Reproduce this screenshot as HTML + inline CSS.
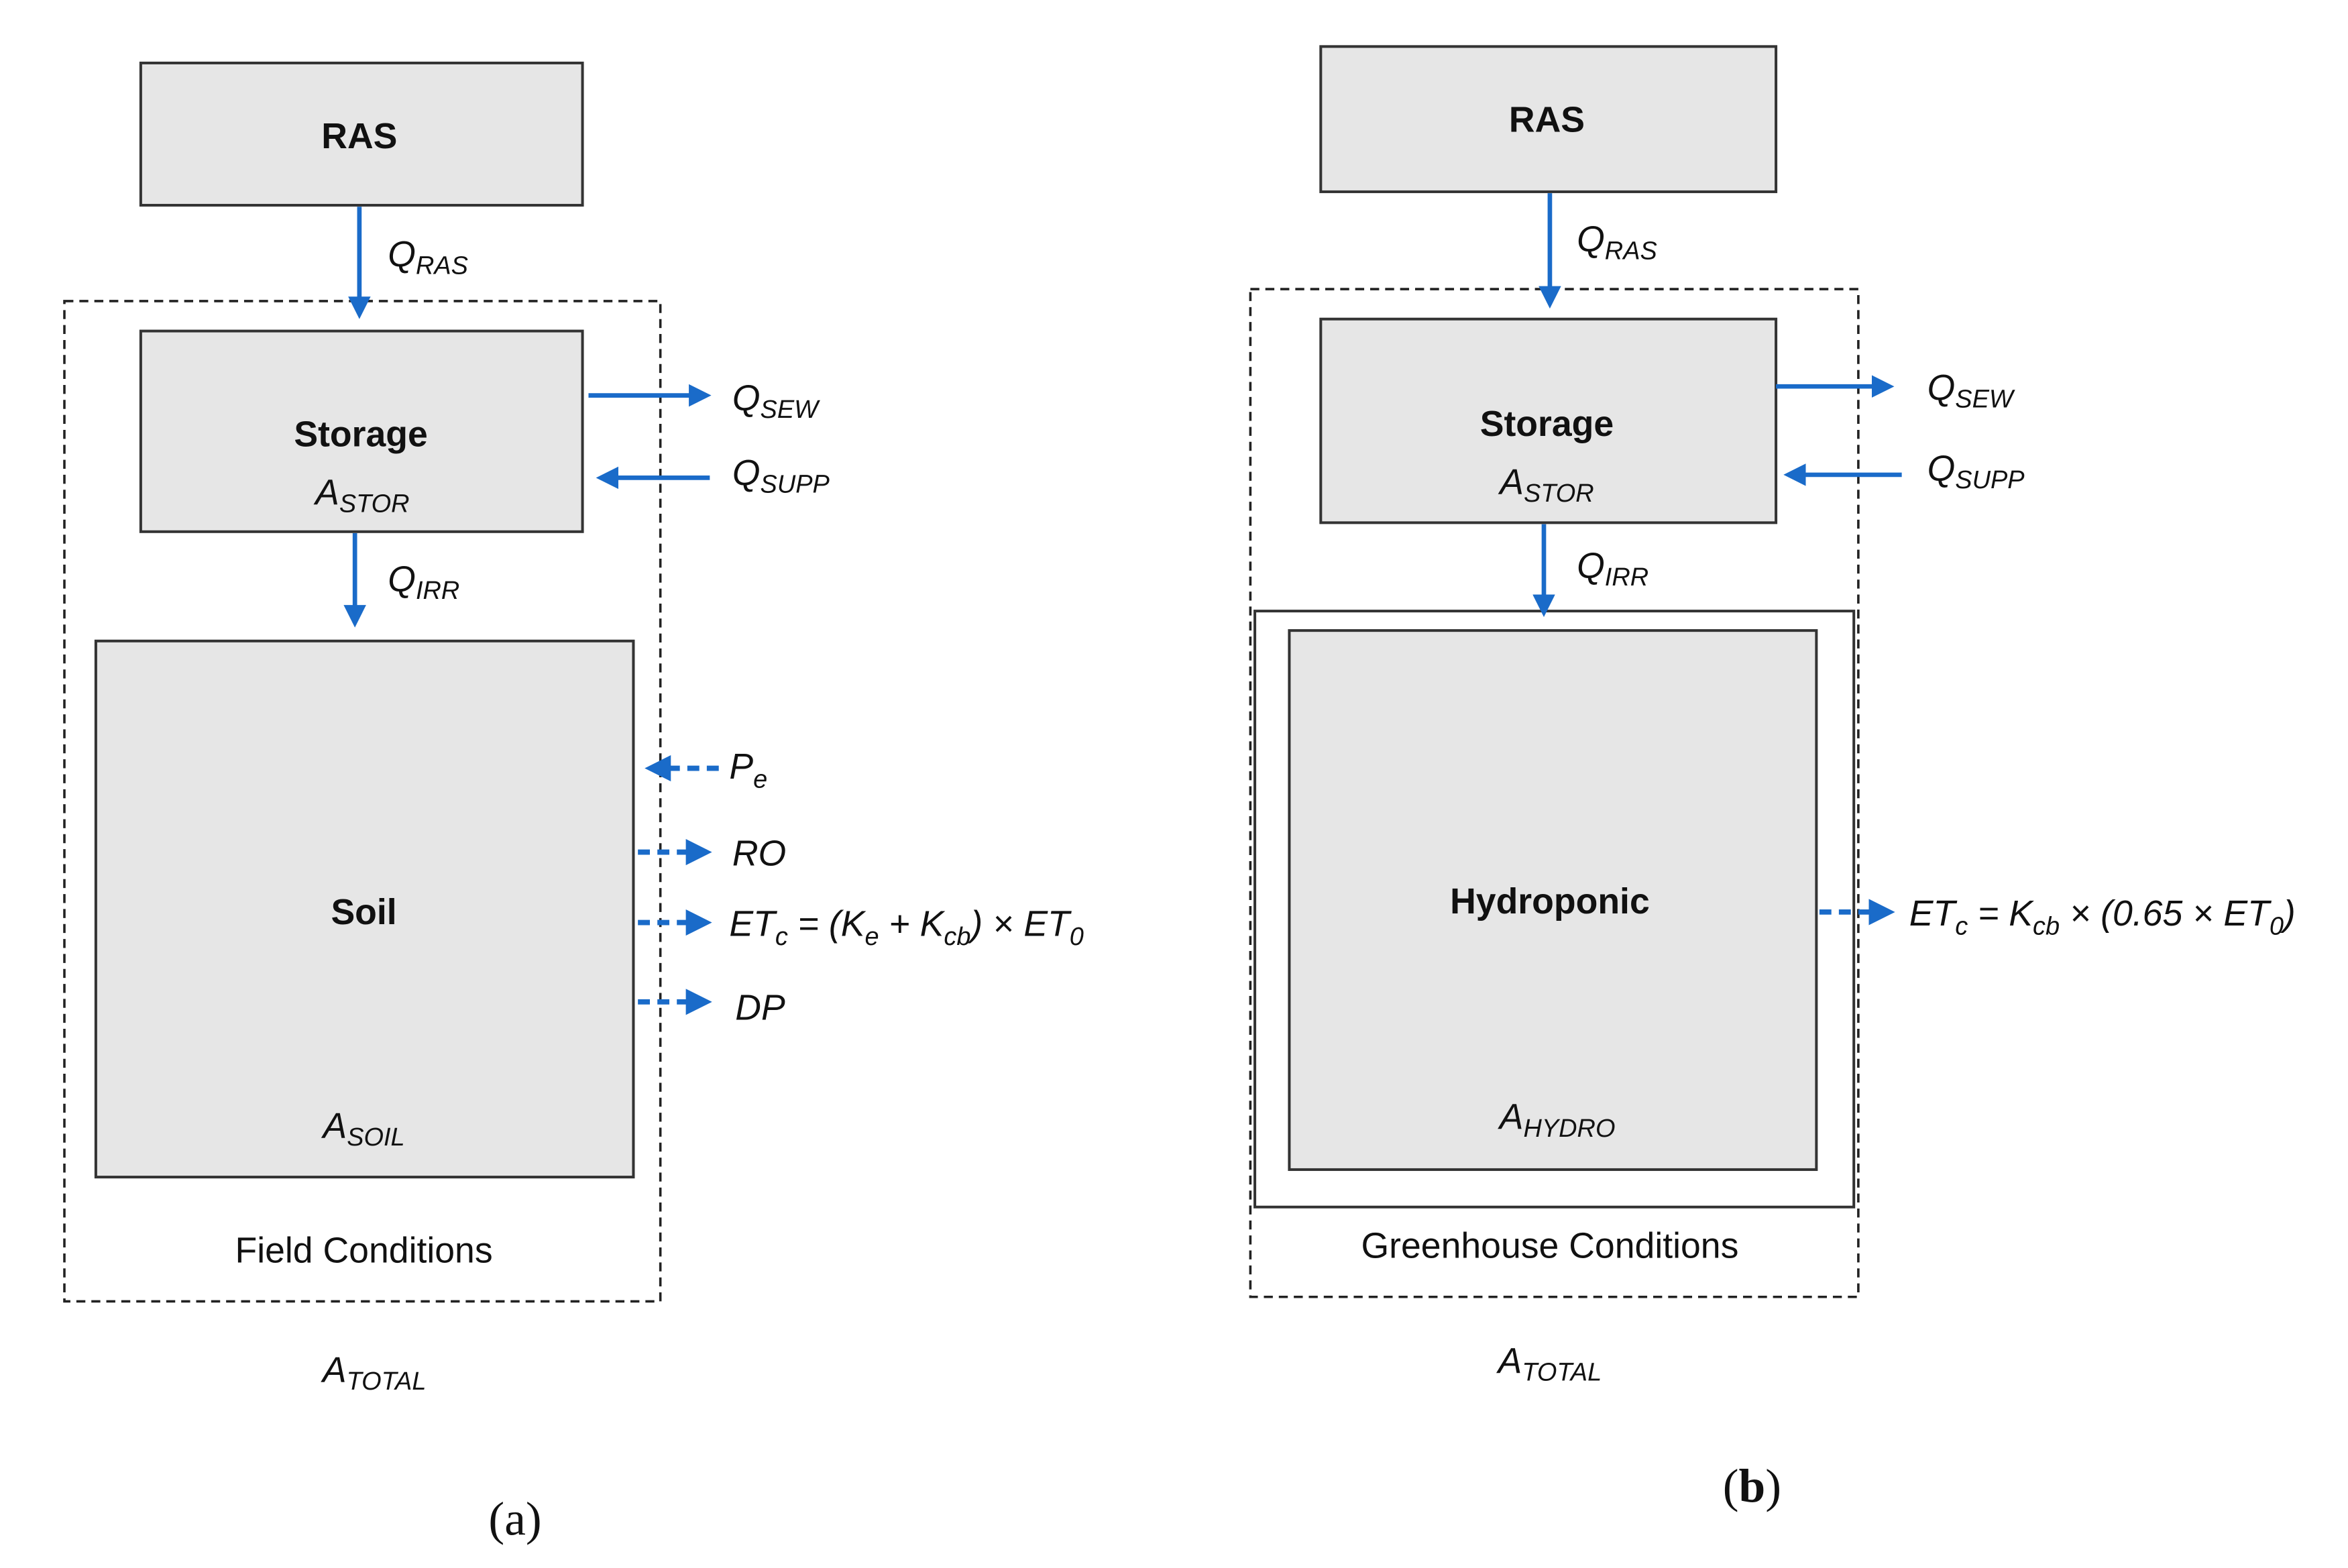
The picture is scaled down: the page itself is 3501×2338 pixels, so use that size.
<!DOCTYPE html>
<html><head><meta charset="utf-8"><style>
html,body{margin:0;padding:0;background:#fff;}
svg{display:block;}
text{font-family:"Liberation Sans",Arial,sans-serif;fill:#111;}
.b{font-weight:bold;font-size:24px;}
.i{font-style:italic;font-size:24px;}
.s{font-size:17px;}
.n{font-size:24px;}
</style></head><body>
<svg width="3501" height="2338" viewBox="0 0 1568 1047" xmlns="http://www.w3.org/2000/svg">
<defs>
<marker id="ah" markerWidth="5" markerHeight="5" refX="4" refY="2.5" orient="auto" markerUnits="strokeWidth"><path d="M0,0 L5,2.5 L0,5 z" fill="#1a6bc9"/></marker>
</defs>
<g stroke="#333" stroke-width="1.8" fill="#e6e6e6">
<rect x="94" y="42" width="295" height="95"/>
<rect x="94" y="221" width="295" height="134"/>
<rect x="64" y="428" width="359" height="358"/>
<rect x="882" y="31" width="304" height="97"/>
<rect x="882" y="213" width="304" height="136"/>
<rect x="838" y="408" width="400" height="398" fill="none"/>
<rect x="861" y="421" width="352" height="360"/>
</g>
<g stroke="#222" stroke-width="1.6" fill="none" stroke-dasharray="6,4">
<rect x="43" y="201" width="398" height="668"/>
<rect x="835" y="193" width="406" height="673"/>
</g>
<g stroke="#1a6bc9" stroke-width="3" fill="none" marker-end="url(#ah)">
<line x1="240" y1="138" x2="240" y2="210"/>
<line x1="237" y1="356" x2="237" y2="416"/>
<line x1="393" y1="264" x2="472" y2="264"/>
<line x1="474" y1="319" x2="401" y2="319"/>
<line x1="1035" y1="129" x2="1035" y2="203"/>
<line x1="1031" y1="350" x2="1031" y2="409"/>
<line x1="1186" y1="258" x2="1262" y2="258"/>
<line x1="1270" y1="317" x2="1194" y2="317"/>
</g>
<g stroke="#1a6bc9" stroke-width="3.5" fill="none" stroke-dasharray="8,5" marker-end="url(#ah)">
<line x1="480" y1="513" x2="434" y2="513"/>
<line x1="426" y1="569" x2="472" y2="569"/>
<line x1="426" y1="616" x2="472" y2="616"/>
<line x1="426" y1="669" x2="472" y2="669"/>
<line x1="1215" y1="609" x2="1262" y2="609"/>
</g>
<text class="b" x="240" y="99" text-anchor="middle">RAS</text>
<text class="b" x="241" y="298" text-anchor="middle">Storage</text>
<text class="i" x="242" y="337" text-anchor="middle">A<tspan class="s" dy="5">STOR</tspan></text>
<text class="b" x="243" y="617" text-anchor="middle">Soil</text>
<text class="i" x="243" y="760" text-anchor="middle">A<tspan class="s" dy="5">SOIL</tspan></text>
<text class="n" x="243" y="843" text-anchor="middle">Field Conditions</text>
<text class="i" x="250" y="923" text-anchor="middle">A<tspan class="s" dy="5">TOTAL</tspan></text>
<text class="i" x="259" y="178">Q<tspan class="s" dy="5">RAS</tspan></text>
<text class="i" x="259" y="395">Q<tspan class="s" dy="5">IRR</tspan></text>
<text class="i" x="489" y="274">Q<tspan class="s" dy="5">SEW</tspan></text>
<text class="i" x="489" y="324">Q<tspan class="s" dy="5">SUPP</tspan></text>
<text class="i" x="487" y="520">P<tspan class="s" dy="6">e</tspan></text>
<text class="i" x="489" y="578">RO</text>
<text class="i" x="487" y="625">ET<tspan class="s" dy="6">c</tspan><tspan dy="-6"> = (K</tspan><tspan class="s" dy="6">e</tspan><tspan dy="-6"> + K</tspan><tspan class="s" dy="6">cb</tspan><tspan dy="-6">) × ET</tspan><tspan class="s" dy="6">0</tspan></text>
<text class="i" x="491" y="681">DP</text>
<text x="344" y="1025" text-anchor="middle" style="font-family:'Liberation Serif',serif;font-size:32px;">(a)</text>

<text class="b" x="1033" y="88" text-anchor="middle">RAS</text>
<text class="b" x="1033" y="291" text-anchor="middle">Storage</text>
<text class="i" x="1033" y="330" text-anchor="middle">A<tspan class="s" dy="5">STOR</tspan></text>
<text class="b" x="1035" y="610" text-anchor="middle">Hydroponic</text>
<text class="i" x="1040" y="754" text-anchor="middle">A<tspan class="s" dy="5">HYDRO</tspan></text>
<text class="n" x="1035" y="840" text-anchor="middle">Greenhouse  Conditions</text>
<text class="i" x="1035" y="917" text-anchor="middle">A<tspan class="s" dy="5">TOTAL</tspan></text>
<text class="i" x="1053" y="168">Q<tspan class="s" dy="5">RAS</tspan></text>
<text class="i" x="1053" y="386">Q<tspan class="s" dy="5">IRR</tspan></text>
<text class="i" x="1287" y="267">Q<tspan class="s" dy="5">SEW</tspan></text>
<text class="i" x="1287" y="321">Q<tspan class="s" dy="5">SUPP</tspan></text>
<text class="i" x="1275" y="618">ET<tspan class="s" dy="6">c</tspan><tspan dy="-6"> = K</tspan><tspan class="s" dy="6">cb</tspan><tspan dy="-6"> × (0.65 × ET</tspan><tspan class="s" dy="6">0</tspan><tspan dy="-6">)</tspan></text>
<text x="1170" y="1003" text-anchor="middle" style="font-family:'Liberation Serif',serif;font-size:32px;">(<tspan font-weight="bold">b</tspan>)</text>
</svg>
</body></html>
